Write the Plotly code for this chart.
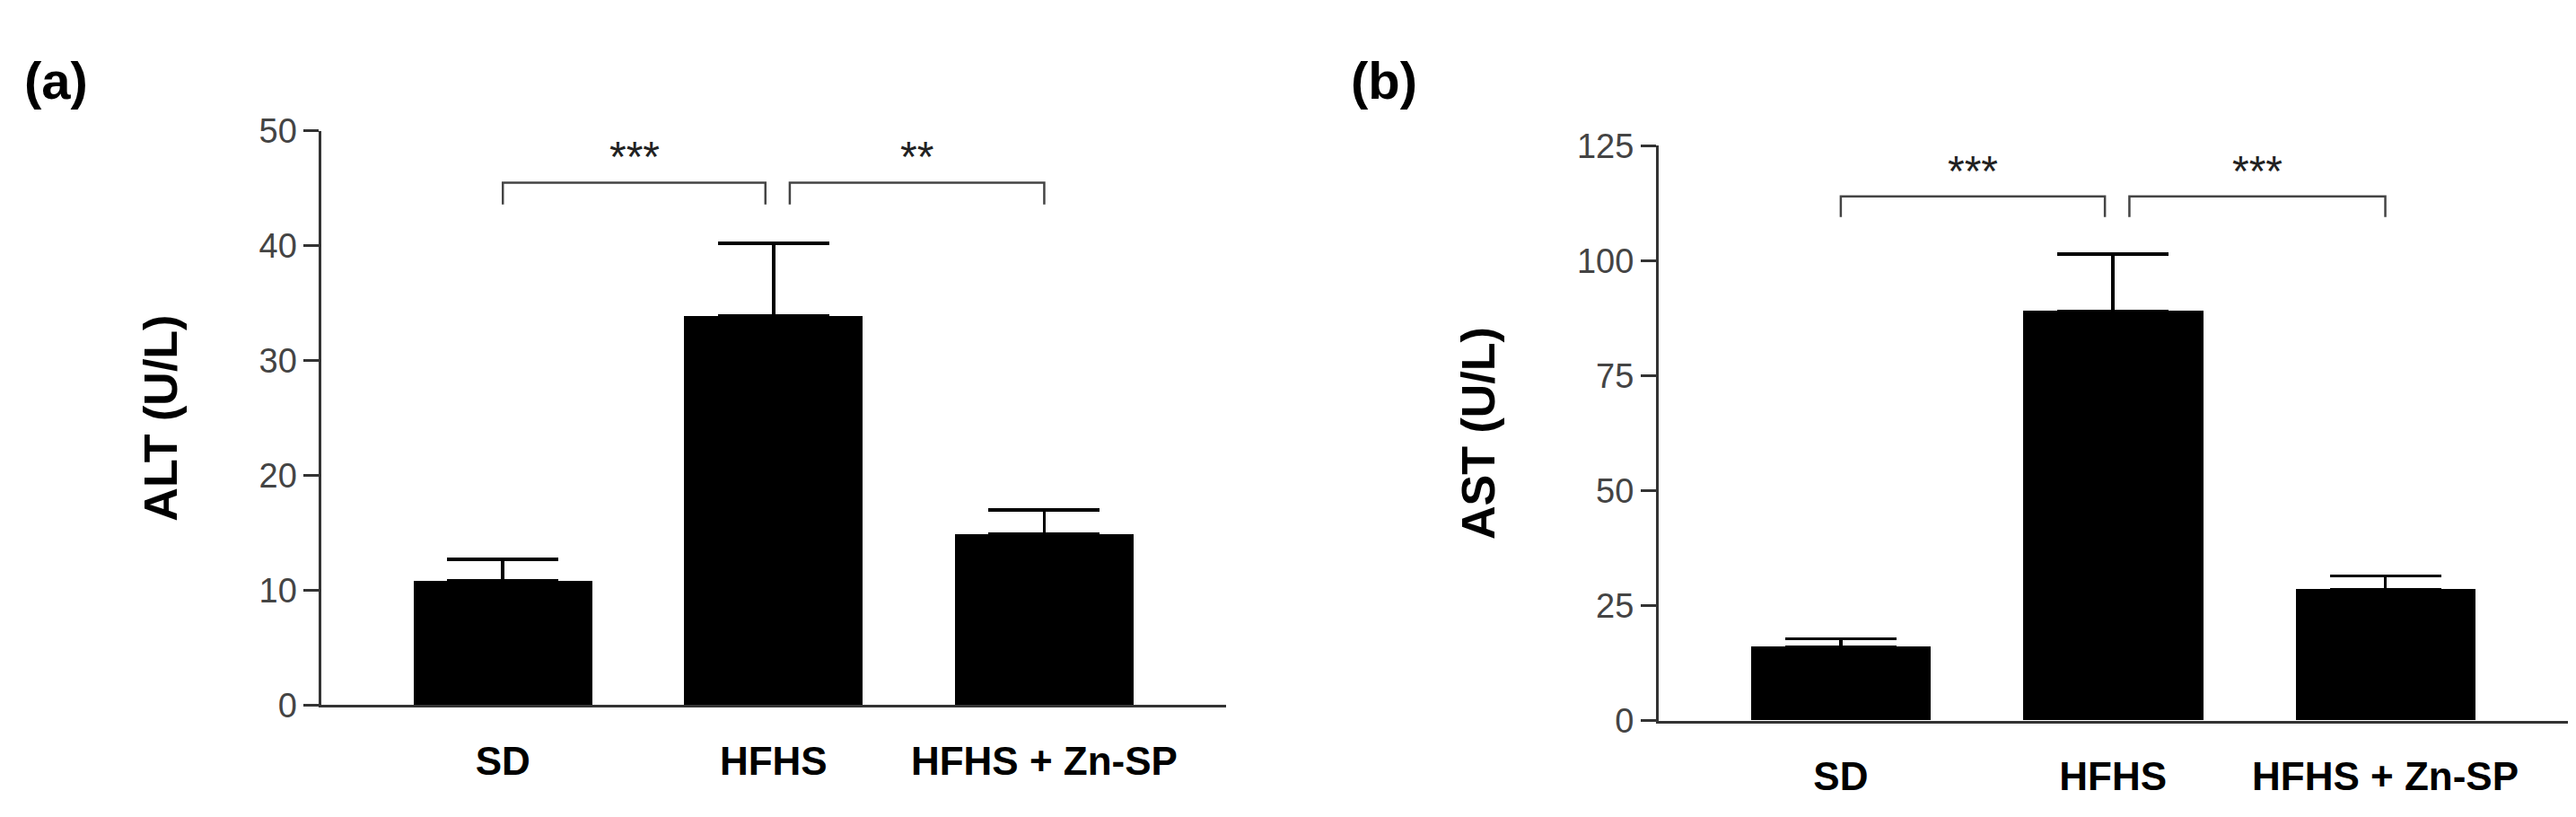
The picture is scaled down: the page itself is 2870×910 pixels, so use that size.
import plotly.graph_objects as go

groups = ["SD", "HFHS", "HFHS + Zn-SP"]
alt_mean = [10.8, 33.9, 14.9]
alt_err = [1.9, 6.3, 2.1]
ast_mean = [16.0, 89.0, 28.5]
ast_err = [1.8, 12.5, 3.0]

alt_sig = [("***", 0, 0.97, 45.5, 43.6), ("**", 1.06, 2, 45.5, 43.6)]
ast_sig = [("***", 0, 0.97, 114.0, 109.5), ("***", 1.06, 2, 114.0, 109.5)]

xs = [0, 1, 2]
fig = go.Figure()

for m, e, ax in [(alt_mean, alt_err, ""), (ast_mean, ast_err, "2")]:
    fig.add_trace(go.Bar(
        x=xs, y=m, width=0.66, marker=dict(color="black", line=dict(width=0)),
        error_y=dict(type="data", array=e, arrayminus=[0] * 3, symmetric=False,
                     color="black", thickness=3.5, width=62),
        xaxis="x" + ax, yaxis="y" + ax, showlegend=False))

for sig, ax in [(alt_sig, ""), (ast_sig, "2")]:
    for txt, x0, x1, ytop, ybot in sig:
        fig.add_shape(type="path", xref="x" + ax, yref="y" + ax,
                      path=f"M {x0} {ybot} L {x0} {ytop} L {x1} {ytop} L {x1} {ybot}",
                      line=dict(color="#444", width=2.5))
        fig.add_annotation(x=(x0 + x1) / 2, y=ytop, xref="x" + ax, yref="y" + ax,
                           text=txt, showarrow=False, yanchor="bottom", yshift=0,
                           font=dict(size=48, color="#222", family="Liberation Sans"))

xcommon = dict(range=[-0.67, 2.67], tickvals=xs, ticktext=[f"<b>{g}</b>" for g in groups],
               showline=True, linecolor="#333", linewidth=2.5, ticks="",
               ticklabelstandoff=22,
               tickfont=dict(size=44, color="black", family="Liberation Sans"),
               showgrid=False, zeroline=False, fixedrange=True)
ycommon = dict(showline=True, linecolor="#333", linewidth=2.5, ticks="outside",
               ticklen=17, tickwidth=2.5, tickcolor="#333", showgrid=False, zeroline=False,
               tickfont=dict(size=38, color="#444", family="Liberation Sans"),
               title_font=dict(size=52, color="black", family="Liberation Sans"))

fig.update_layout(
    width=2870, height=910, margin=dict(l=0, r=0, t=0, b=0),
    plot_bgcolor="white", paper_bgcolor="white", bargap=0,
    xaxis=dict(xcommon, domain=[0.122, 0.473], anchor="y"),
    yaxis=dict(ycommon, domain=[0.1286, 0.8654], range=[0, 50], dtick=10,
               title=dict(text="<b>ALT (U/L)</b>", standoff=75), anchor="x"),
    xaxis2=dict(xcommon, domain=[0.641, 0.994], anchor="y2"),
    yaxis2=dict(ycommon, domain=[0.1088, 0.8462], range=[0, 125], dtick=25,
                title=dict(text="<b>AST (U/L)</b>", standoff=75), anchor="x2"),
)
for txt, x in [("(a)", 0.006), ("(b)", 0.521)]:
    fig.add_annotation(x=x, y=0.97, xref="paper", yref="paper", text=f"<b>{txt}</b>",
                       showarrow=False, xanchor="left", yanchor="top",
                       font=dict(size=58, color="black", family="Liberation Sans"))

fig.write_html("out.html")
